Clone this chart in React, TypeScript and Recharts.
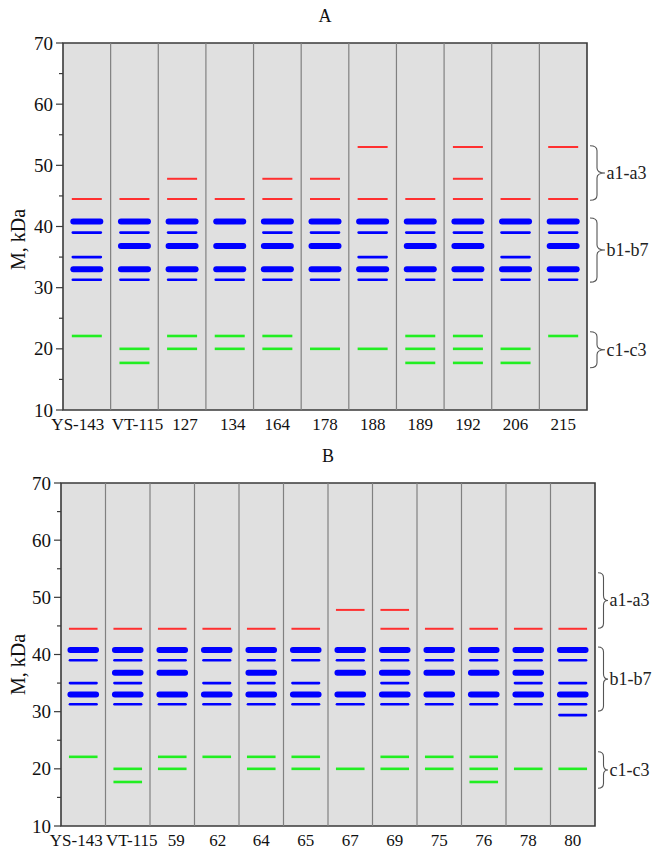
import React from 'react';
import { ComposedChart, Scatter, XAxis, YAxis, ReferenceArea, ReferenceLine } from 'recharts';

// ---------- Panel A data ----------
const lanesA = ['YS-143', 'VT-115', '127', '134', '164', '178', '188', '189', '192', '206', '215'];
const aBandsA = [[44.5], [44.5], [47.8, 44.5], [44.5], [47.8, 44.5], [47.8, 44.5], [53, 44.5], [44.5], [53, 47.8, 44.5], [44.5], [53, 44.5]];
const bBandsA = [
  [40.8, 39, 35, 33, 31.3],
  [40.8, 39, 36.8, 33, 31.3],
  [40.8, 39, 36.8, 33, 31.3],
  [40.8, 36.8, 33, 31.3],
  [40.8, 39, 36.8, 33, 31.3],
  [40.8, 39, 36.8, 33, 31.3],
  [40.8, 39, 35, 33, 31.3],
  [40.8, 39, 36.8, 33, 31.3],
  [40.8, 39, 36.8, 33, 31.3],
  [40.8, 39, 35, 33, 31.3],
  [40.8, 39, 36.8, 33, 31.3],
];
const cBandsA = [[22.1], [20, 17.7], [22.1, 20], [22.1, 20], [22.1, 20], [20], [20], [22.1, 20, 17.7], [22.1, 20, 17.7], [20, 17.7], [22.1]];
const bracesA = [
  { label: 'a1-a3', top: 53.2, bottom: 44.3 },
  { label: 'b1-b7', top: 41.4, bottom: 30.9 },
  { label: 'c1-c3', top: 22.8, bottom: 16.9 },
];

// ---------- Panel B data ----------
const lanesB = ['YS-143', 'VT-115', '59', '62', '64', '65', '67', '69', '75', '76', '78', '80'];
const aBandsB = [[44.5], [44.5], [44.5], [44.5], [44.5], [44.5], [47.8], [47.8, 44.5], [44.5], [44.5], [44.5], [44.5]];
const bBandsB = [
  [40.8, 39, 35, 33, 31.3],
  [40.8, 39, 36.8, 35, 33, 31.3],
  [40.8, 39, 36.8, 33, 31.3],
  [40.8, 39, 35, 33, 31.3],
  [40.8, 39, 36.8, 35, 33, 31.3],
  [40.8, 39, 35, 33, 31.3],
  [40.8, 39, 36.8, 33, 31.3],
  [40.8, 39, 36.8, 35, 33, 31.3],
  [40.8, 39, 36.8, 33, 31.3],
  [40.8, 39, 36.8, 33, 31.3],
  [40.8, 39, 36.8, 35, 33, 31.3],
  [40.8, 39, 35, 33, 31.3, 29.4],
];
const cBandsB = [[22.1], [20, 17.7], [22.1, 20], [22.1], [22.1, 20], [22.1, 20], [20], [22.1, 20], [22.1, 20], [22.1, 20, 17.7], [20], [20]];
const bracesB = [
  { label: 'a1-a3', top: 54.3, bottom: 44.6 },
  { label: 'b1-b7', top: 41.3, bottom: 30.1 },
  { label: 'c1-c3', top: 23.0, bottom: 16.6 },
];

const thickBlue = [40.8, 36.8, 33];
const yTicks = [10, 15, 20, 25, 30, 35, 40, 45, 50, 55, 60, 65, 70];

const FONT = '"Liberation Serif", "Times New Roman", serif';
const RED = '#ff3030';
const BLUE = '#0000ff';
const GREEN = '#22ee22';
const FRAME = '#3a3a3a';

type PanelProps = {
  title: string;
  lanes: string[];
  aBands: number[][];
  bBands: number[][];
  cBands: number[][];
  braces: { label: string; top: number; bottom: number }[];
  top: number;
  height: number;
  margin: { top: number; right: number; bottom: number; left: number };
  xAxisHeight: number;
  half: number;
  nudges: number[];
  yLabelShift: number;
  braceGap: number;
  braceSpine: number;
  braceTip: number;
};

const toPoints = (bands: number[][], keep: (v: number) => boolean) =>
  bands.flatMap((vals, i) => vals.filter(keep).map((v) => ({ x: i + 0.5, y: v })));

function Panel(p: PanelProps) {
  const n = p.lanes.length;
  const red = toPoints(p.aBands, () => true);
  const blueThick = toPoints(p.bBands, (v) => thickBlue.includes(v));
  const blueThin = toPoints(p.bBands, (v) => !thickBlue.includes(v));
  const green = toPoints(p.cBands, () => true);
  const xTicks = p.lanes.map((_, i) => i + 0.5);
  const dividers = p.lanes.slice(1).map((_, i) => i + 1);
  const plotCenterX = p.margin.left + 40 + (652 - p.margin.left - 40 - p.margin.right) / 2;

  const band = (color: string, w: number, cap: 'butt' | 'round', extra: number) => (props: any) => {
    const { cx, cy } = props;
    if (cx == null || cy == null) return <g />;
    const h = p.half - extra;
    return <line x1={cx - h} x2={cx + h} y1={cy} y2={cy} stroke={color} strokeWidth={w} strokeLinecap={cap} />;
  };

  const YTick = (props: any) => {
    const { x, y, payload } = props;
    const v = payload.value;
    const major = v % 10 === 0;
    return (
      <g>
        <line x1={x - (major ? 7 : 4)} x2={x} y1={y} y2={y} stroke={FRAME} strokeWidth={1.2} />
        {major && (
          <text x={x - 10} y={y + 6.5} textAnchor="end" fontSize={19} fontFamily={FONT} fill="#111">
            {v}
          </text>
        )}
      </g>
    );
  };

  const XTick = (props: any) => {
    const { x, y, payload } = props;
    const idx = Math.floor(payload.value);
    return (
      <text x={x + (p.nudges[idx] || 0)} y={y + 20} textAnchor="middle" fontSize={17} fontFamily={FONT} fill="#111">
        {p.lanes[idx]}
      </text>
    );
  };

  const Brace = (label: string) => (props: any) => {
    const { x, y, width, height } = props;
    if (x == null || y == null) return <g />;
    const x0 = x + width + p.braceGap;
    const x1 = x0 + p.braceSpine;
    const x2 = x0 + p.braceTip;
    const t = y;
    const b = y + height;
    const m = (t + b) / 2;
    const r = 5;
    const d = `M${x0},${t} Q${x1},${t} ${x1},${t + r} L${x1},${m - r} Q${x1},${m} ${x2},${m} Q${x1},${m} ${x1},${m + r} L${x1},${b - r} Q${x1},${b} ${x0},${b}`;
    return (
      <g>
        <path d={d} fill="none" stroke="#555" strokeWidth={1.1} />
        <text x={x2 + 1.5} y={m + 6} fontSize={18} fontFamily={FONT} fill="#222">
          {label}
        </text>
      </g>
    );
  };

  const YLabel = (props: any) => {
    const vb = props.viewBox || {};
    const cy = (vb.y || 0) + (vb.height || 0) / 2 + p.yLabelShift;
    const cx = 18;
    return (
      <text x={cx} y={cy} transform={`rotate(-90 ${cx} ${cy})`} textAnchor="middle" dominantBaseline="central" fontSize={20} fontFamily={FONT} fill="#111">
        M, kDa
      </text>
    );
  };

  return (
    <div style={{ position: 'absolute', left: 0, top: p.top, width: 652, height: p.height }}>
      <div
        style={{
          position: 'absolute',
          left: plotCenterX - 20,
          width: 40,
          top: 5,
          textAlign: 'center',
          fontFamily: FONT,
          fontSize: 18,
          lineHeight: '22px',
          color: '#111',
        }}
      >
        {p.title}
      </div>
      <ComposedChart width={652} height={p.height} margin={p.margin}>
        <XAxis
          type="number"
          dataKey="x"
          domain={[0, n]}
          ticks={xTicks}
          interval={0}
          allowDataOverflow
          axisLine={false}
          tickLine={false}
          tickSize={0}
          tickMargin={0}
          height={p.xAxisHeight}
          tick={<XTick />}
        />
        <YAxis
          type="number"
          dataKey="y"
          domain={[10, 70]}
          ticks={yTicks}
          interval={0}
          allowDataOverflow
          axisLine={false}
          tickLine={false}
          tickSize={0}
          tickMargin={0}
          width={40}
          tick={<YTick />}
          label={{ content: <YLabel /> }}
        />
        <ReferenceArea x1={0} x2={n} y1={10} y2={70} fill="#e0e0e0" fillOpacity={1} stroke="none" ifOverflow="visible" />
        {dividers.map((d) => (
          <ReferenceLine key={d} x={d} stroke="#808080" strokeWidth={1.2} ifOverflow="visible" />
        ))}
        <ReferenceArea x1={0} x2={n} y1={10} y2={70} fill="none" stroke={FRAME} strokeWidth={1.6} ifOverflow="visible" />
        {p.braces.map((br) => (
          <ReferenceArea
            key={br.label}
            x1={n - 0.1}
            x2={n}
            y1={br.bottom}
            y2={br.top}
            ifOverflow="visible"
            shape={Brace(br.label)}
          />
        ))}
        <Scatter data={red} fill={RED} shape={band(RED, 2, 'butt', 0)} isAnimationActive={false} />
        <Scatter data={green} fill={GREEN} shape={band(GREEN, 2.6, 'butt', 0)} isAnimationActive={false} />
        <Scatter data={blueThin} fill={BLUE} shape={band(BLUE, 2.6, 'round', 1)} isAnimationActive={false} />
        <Scatter data={blueThick} fill={BLUE} shape={band(BLUE, 6, 'round', 1.5)} isAnimationActive={false} />
      </ComposedChart>
    </div>
  );
}

export default function App() {
  return (
    <div style={{ position: 'absolute', left: 0, top: 0, width: 652, height: 849, background: '#fff' }}>
      <Panel
        title="A"
        lanes={lanesA}
        aBands={aBandsA}
        bBands={bBandsA}
        cBands={cBandsA}
        braces={bracesA}
        top={0}
        height={440}
        margin={{ top: 43, right: 65, bottom: 0, left: 23 }}
        xAxisHeight={30}
        half={15}
        nudges={[-9, 3, 3, 3]}
        yLabelShift={13}
        braceGap={3}
        braceSpine={7}
        braceTip={15}
      />
      <Panel
        title="B"
        lanes={lanesB}
        aBands={aBandsB}
        bBands={bBandsB}
        cBands={cBandsB}
        braces={bracesB}
        top={440}
        height={409}
        margin={{ top: 43, right: 57, bottom: 0, left: 21 }}
        xAxisHeight={23}
        half={14.3}
        nudges={[-7, 4, 4, 1]}
        yLabelShift={10}
        braceGap={3}
        braceSpine={5.5}
        braceTip={10}
      />
    </div>
  );
}
